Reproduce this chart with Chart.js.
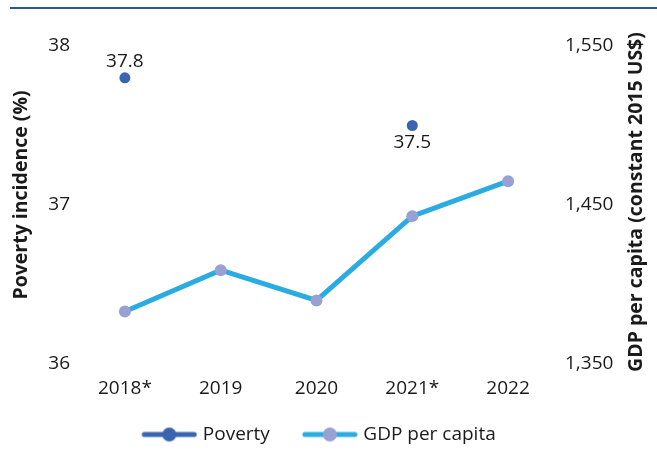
<!DOCTYPE html>
<html>
<head>
<meta charset="utf-8">
<script src="https://cdn.jsdelivr.net/npm/chart.js@4"></script>
<style>
html,body{margin:0;padding:0;background:#fff;}
#wrap{position:relative;width:657px;height:454px;}
#topline{position:absolute;left:10px;right:0;top:7px;height:2px;background:#2d5a8a;}
canvas{position:absolute;left:0;top:0;}
</style>
</head>
<body>
<div id="wrap">
<canvas id="c" width="657" height="454"></canvas>
<div id="topline"></div>
</div>
<script>
const categories = ["2018*", "2019", "2020", "2021*", "2022"];
const povertyValues = [37.8, null, null, 37.5, null];
const gdpValues = [1383, 1409, 1390, 1443, 1465];
const leftTicks = [36, 37, 38];
const rightTicks = [1350, 1450, 1550];
const leftTitle = "Poverty incidence (%)";
const rightTitle = "GDP per capita (constant 2015 US$)";

const POV_COLOR = "#3a63b0";
const GDP_LINE = "#2aace2";
const GDP_POINT = "#97a1d3";
const TEXT = "#1a1a1a";
const FONT = "'Open Sans', sans-serif";

function legendIcon(lineColor, dotColor) {
  const cv = document.createElement("canvas");
  cv.width = 64; cv.height = 16;
  const x = cv.getContext("2d");
  x.strokeStyle = lineColor; x.lineWidth = 5; x.lineCap = "round";
  x.beginPath(); x.moveTo(11, 8); x.lineTo(61, 8); x.stroke();
  x.fillStyle = dotColor;
  x.beginPath(); x.arc(36, 8, 7, 0, Math.PI * 2); x.fill();
  return cv;
}
const icons = [legendIcon(POV_COLOR, POV_COLOR), legendIcon(GDP_LINE, GDP_POINT)];

const extrasPlugin = {
  id: "extras",
  afterDatasetsDraw(chart) {
    const ctx = chart.ctx;
    const meta = chart.getDatasetMeta(0);
    ctx.save();
    ctx.font = "19px " + FONT;
    ctx.fillStyle = TEXT;
    ctx.textAlign = "center";
    povertyValues.forEach((v, i) => {
      if (v === null) return;
      const p = meta.data[i];
      if (i === 0) {
        ctx.textBaseline = "bottom";
        ctx.fillText(v.toFixed(1), p.x, p.y - 7);
      } else {
        ctx.textBaseline = "top";
        ctx.fillText(v.toFixed(1), p.x, p.y + 8);
      }
    });
    // axis titles, both reading bottom-to-top
    ctx.font = "bold 19.5px " + FONT;
    ctx.textBaseline = "middle";
    ctx.save();
    ctx.translate(21, 195);
    ctx.rotate(-Math.PI / 2);
    ctx.fillText(leftTitle, 0, 0);
    ctx.restore();
    ctx.save();
    ctx.translate(636, 202);
    ctx.rotate(-Math.PI / 2);
    ctx.fillText(rightTitle, 0, 0);
    ctx.restore();
    ctx.restore();
  }
};

new Chart(document.getElementById("c"), {
  type: "line",
  data: {
    labels: categories,
    datasets: [
      {
        label: "Poverty",
        data: povertyValues,
        yAxisID: "yL",
        showLine: false,
        borderColor: POV_COLOR,
        backgroundColor: POV_COLOR,
        pointRadius: 5.5,
        pointHoverRadius: 5.5,
        pointBorderWidth: 0
      },
      {
        label: "GDP per capita",
        data: gdpValues,
        yAxisID: "yR",
        borderColor: GDP_LINE,
        borderWidth: 5,
        backgroundColor: GDP_POINT,
        pointBackgroundColor: GDP_POINT,
        pointBorderWidth: 0,
        pointRadius: 6,
        pointHoverRadius: 6,
        tension: 0
      }
    ]
  },
  options: {
    responsive: false,
    animation: false,
    devicePixelRatio: 1,
    layout: { padding: { top: 46, left: 0, right: 0, bottom: 0 } },
    plugins: {
      tooltip: { enabled: false },
      legend: {
        position: "bottom",
        fullSize: false,
        labels: {
          usePointStyle: true,
          pointStyleWidth: 56,
          padding: 28,
          color: TEXT,
          font: { family: FONT, size: 19 },
          generateLabels(chart) {
            return chart.data.datasets.map((d, i) => ({
              text: d.label,
              pointStyle: icons[i],
              fillStyle: "transparent",
              strokeStyle: "transparent",
              lineWidth: 0,
              datasetIndex: i,
              hidden: false,
              fontColor: TEXT
            }));
          }
        }
      }
    },
    scales: {
      x: {
        offset: true,
        grid: { display: false, drawTicks: false },
        border: { display: false },
        ticks: { color: TEXT, font: { family: FONT, size: 19 }, padding: 13 },
        afterFit(axis) { axis.height = 33; }
      },
      yL: {
        position: "left",
        min: 36, max: 38,
        afterBuildTicks(axis) { axis.ticks = leftTicks.map(v => ({ value: v })); },
        afterFit(axis) { axis.width = 77; },
        grid: { display: false, drawTicks: false },
        border: { display: false },
        ticks: { color: TEXT, font: { family: FONT, size: 19 }, padding: 7 }
      },
      yR: {
        position: "right",
        min: 1350, max: 1550,
        afterBuildTicks(axis) { axis.ticks = rightTicks.map(v => ({ value: v })); },
        afterFit(axis) { axis.width = 101; },
        grid: { display: false, drawTicks: false },
        border: { display: false },
        ticks: {
          color: TEXT, font: { family: FONT, size: 19 }, padding: 9,
          callback: v => v.toLocaleString("en-US")
        }
      }
    }
  },
  plugins: [extrasPlugin]
});
</script>
</body>
</html>
